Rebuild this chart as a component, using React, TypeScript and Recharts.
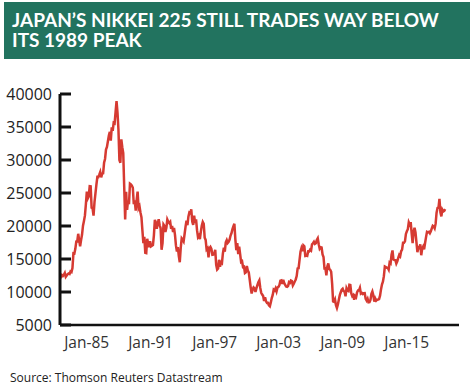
import { LineChart, Line, XAxis, YAxis } from 'recharts';

// Nikkei 225 month-end closes, Jan 1985 onwards
const START_YEAR = 1985;

const closes1985to1989 = [
  11992, 12322, 12580, 12426, 12612, 12882, 12304, 12498, 12700, 12800, 12720, 13113,
  13024, 13640, 15860, 15825, 16540, 17654, 17675, 18820, 17852, 16911, 17852, 18701,
  20048, 20766, 21566, 23274, 25221, 24176, 24488, 26029, 26010, 22765, 22687, 21564,
  23623, 24934, 26260, 27434, 27417, 27769, 28179, 27366, 27923, 27982, 29579, 30159,
  31581, 31985, 32838, 33713, 34267, 32948, 34954, 34431, 35637, 35549, 37269, 38916,
];

const closes1990to1994 = [
  37189, 34592, 29980, 29584, 33131, 31940, 31036, 25978, 20984, 25194, 22455, 23849,
  23293, 26409, 26292, 26111, 25790, 23291, 23900, 22336, 23916, 25222, 22687, 22984,
  22023, 21339, 19346, 17391, 18348, 15952, 15910, 18061, 17399, 16767, 17684, 16925,
  17024, 17113, 18591, 20919, 20552, 19590, 20380, 21027, 20106, 19704, 16408, 17417,
  20229, 19997, 19112, 19725, 20973, 20644, 20450, 20629, 19564, 19990, 19076, 19723,
];

const closes1995to1999 = [
  18650, 17053, 16140, 16807, 15437, 14517, 16678, 18117, 17913, 17655, 18744, 19868,
  20813, 20125, 21407, 22041, 21956, 22531, 20693, 20167, 21556, 20467, 21020, 19361,
  18330, 18557, 18003, 19151, 20069, 20605, 20331, 18229, 17888, 16459, 16631, 15259,
  16628, 16832, 16527, 15641, 15671, 15830, 16379, 14108, 13406, 13565, 14883, 13842,
  14499, 14368, 15837, 16702, 16112, 17530, 17862, 17437, 17605, 17943, 18558, 18934,
];

const closes2000to2004 = [
  19540, 19960, 20337, 17974, 16332, 17411, 15727, 16861, 15747, 14540, 14649, 13786,
  13844, 12884, 12999, 13934, 13262, 12969, 11861, 10714, 9775, 10367, 10697, 10543,
  9998, 10588, 11025, 11493, 11764, 10622, 9877, 9619, 9383, 8640, 9216, 8579,
  8340, 8363, 7973, 7831, 8425, 9083, 9563, 10344, 10219, 10560, 10101, 10677,
  10784, 11042, 11715, 11762, 11236, 11859, 11326, 11082, 10824, 10771, 10900, 11489,
];

const closes2005to2009 = [
  11388, 11741, 11669, 11009, 11277, 11584, 11900, 12414, 13574, 13607, 14872, 16111,
  16650, 16206, 17060, 16906, 15467, 15505, 15457, 16141, 16128, 16399, 16274, 17226,
  17383, 17604, 17288, 17400, 17876, 18138, 17249, 16569, 16786, 16737, 15681, 15308,
  13592, 13604, 12526, 13850, 14339, 13481, 13377, 13073, 11260, 8577, 8512, 8860,
  7994, 7568, 8110, 8828, 9523, 9958, 10357, 10493, 10133, 10035, 9346, 10546,
];

const closes2010to2014 = [
  10198, 10126, 11090, 11057, 9769, 9383, 9537, 8824, 9369, 9202, 9937, 10229,
  10238, 10624, 9755, 9850, 9694, 9816, 9833, 8955, 8700, 8988, 8435, 8455,
  8803, 9723, 10084, 9521, 8543, 9007, 8695, 8840, 8870, 8928, 9446, 10395,
  11139, 11559, 12398, 13861, 13775, 13677, 13668, 13389, 14456, 14328, 15662, 16291,
  14915, 14841, 14828, 14304, 14632, 15162, 15621, 15425, 16174, 16414, 17460, 17451,
];

const closes2015to2018 = [
  17674, 18798, 19207, 19520, 20563, 20236, 20585, 18890, 17388, 19083, 19747, 19034,
  17518, 16027, 16759, 16666, 17235, 15576, 16569, 16887, 16450, 17425, 18308, 19114,
  19041, 19119, 18909, 19197, 19651, 20033, 19925, 19646, 20356, 22012, 22725, 22765,
  24124, 22068, 21454, 22468, 22202, 22305, 22554,
];

const yTicks = [5000, 10000, 15000, 20000, 25000, 30000, 35000, 40000];
const labelYears = [1985, 1991, 1997, 2003, 2009, 2015];

const closes = [
  ...closes1985to1989,
  ...closes1990to1994,
  ...closes1995to1999,
  ...closes2000to2004,
  ...closes2005to2009,
  ...closes2010to2014,
  ...closes2015to2018,
];

const data = closes.map((value, i) => ({
  t: START_YEAR + i / 12,
  value,
}));

const FONT = '"Open Sans", sans-serif';

// y tick: label to the left, short mark pointing into the plot
const YTick = (props: any) => {
  const { x, y, payload } = props;
  return (
    <g>
      <line x1={x + 8} x2={x + 19} y1={y} y2={y} stroke="#111" strokeWidth={3} />
      <text x={x} y={y} dy="0.35em" textAnchor="end" fill="#222" fontSize={16} fontFamily={FONT}>
        {payload.value}
      </text>
    </g>
  );
};

export default function App() {
  return (
    <div style={{ position: 'fixed', left: 0, top: 0, width: 475, height: 387, background: '#fff' }}>
      <LineChart width={475} height={387} data={data} margin={{ top: 94, right: 16, bottom: 32, left: 10 }}>
        <XAxis xAxisId="data" dataKey="t" type="number" domain={[1985, 2019.7]} height={0} hide />
        <XAxis
          xAxisId="labels"
          dataKey="t"
          type="number"
          domain={[1982.5, 2019.9]}
          ticks={labelYears}
          interval={0}
          tickFormatter={(y: number) => `Jan-${String(y).slice(2)}`}
          height={30}
          axisLine={{ stroke: '#111', strokeWidth: 2.5 }}
          tickLine={false}
          tickSize={0}
          tickMargin={12}
          tick={{ fill: '#333', fontSize: 15.5, fontFamily: FONT }}
        />
        <YAxis
          domain={[5000, 40000]}
          ticks={yTicks}
          interval={0}
          width={50}
          axisLine={{ stroke: '#111', strokeWidth: 3 }}
          tickLine={false}
          tickSize={0}
          tickMargin={8}
          tick={<YTick />}
        />
        <Line
          xAxisId="data"
          dataKey="value"
          type="linear"
          stroke="#d63a32"
          strokeWidth={2.5}
          dot={false}
          isAnimationActive={false}
        />
      </LineChart>

      <div
        style={{
          position: 'absolute',
          left: 4,
          top: 2,
          width: 466,
          height: 57,
          paddingLeft: 8,
          paddingTop: 8,
          boxSizing: 'border-box',
          background: '#22735f',
          color: '#fff',
          fontFamily: 'Lato, sans-serif',
          fontWeight: 700,
          fontSize: 19,
          lineHeight: '20px',
        }}
      >
        JAPAN’S NIKKEI 225 STILL TRADES WAY BELOW
        <br />
        ITS 1989 PEAK
      </div>

      <div
        style={{
          position: 'absolute',
          left: 10,
          top: 369,
          fontFamily: FONT,
          fontSize: 12,
          color: '#222',
          whiteSpace: 'nowrap',
        }}
      >
        Source: Thomson Reuters Datastream
      </div>
    </div>
  );
}
